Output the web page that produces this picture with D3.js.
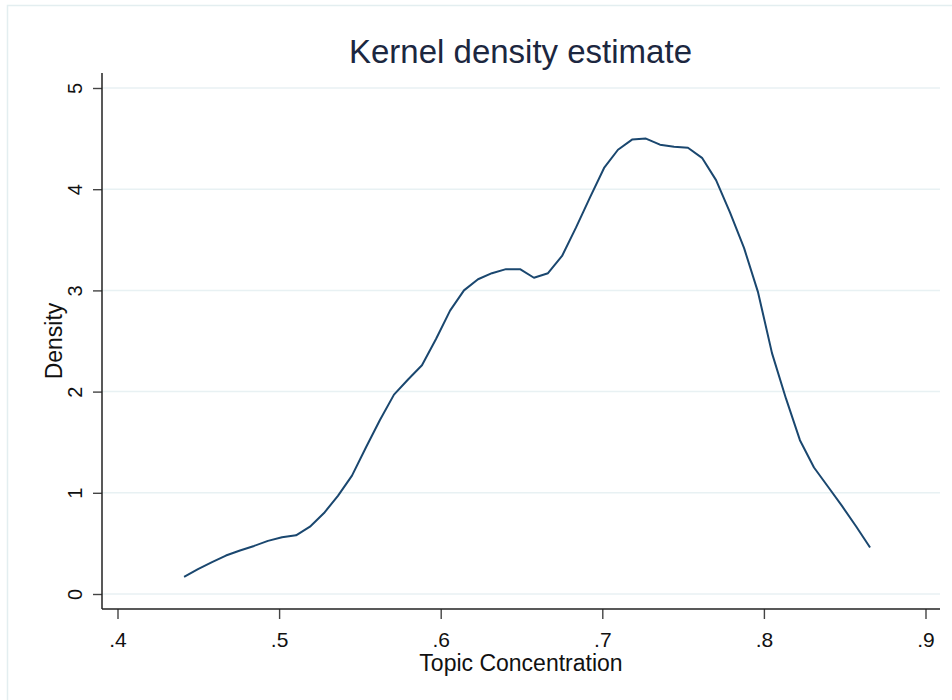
<!DOCTYPE html>
<html>
  <head>
    <meta charset="utf-8" />
    <script type="text/javascript" src="https://cdn.jsdelivr.net/npm/d3@7"></script>
    <style>
      body { margin: 0; background: #fff; }
      text { font-family: Arial, "Liberation Sans", sans-serif; }
    </style>
  </head>
  <body>
    <script type="text/javascript">
      // kdensity evaluation points (topic concentration) and density values
      const topic = [
        0.4412, 0.4498, 0.4585, 0.4671, 0.4758, 0.4845, 0.4931, 0.5018, 0.5105, 0.5191,
        0.5278, 0.5364, 0.5451, 0.5538, 0.5624, 0.5711, 0.5798, 0.5884, 0.5971, 0.6058,
        0.6144, 0.6231, 0.6317, 0.6404, 0.6491, 0.6577, 0.6664, 0.6751, 0.6837, 0.6924,
        0.7011, 0.7097, 0.7184, 0.7270, 0.7357, 0.7444, 0.7530, 0.7617, 0.7704, 0.7790,
        0.7877, 0.7964, 0.8050, 0.8137, 0.8223, 0.8310, 0.8397, 0.8483, 0.8570, 0.8657
      ];
      const density = [
        0.17, 0.245, 0.315, 0.38, 0.43, 0.475, 0.525, 0.56, 0.58, 0.665,
        0.8, 0.97, 1.17, 1.45, 1.72, 1.97, 2.12, 2.26, 2.52, 2.8,
        3.0, 3.11, 3.17, 3.21, 3.21, 3.125, 3.17, 3.34, 3.62, 3.92,
        4.21, 4.39, 4.49, 4.5, 4.44, 4.42, 4.41, 4.31, 4.09, 3.77,
        3.42, 2.98, 2.38, 1.93, 1.52, 1.25, 1.06, 0.87, 0.67, 0.46
      ];
      const xTicks = [0.4, 0.5, 0.6, 0.7, 0.8, 0.9];
      const yTicks = [0, 1, 2, 3, 4, 5];

      const W = 952, H = 700;
      const axisLeftX = 102, axisBottomY = 609, plotRight = 940, plotTop = 73;

      const svg = d3.select("body").append("svg")
        .attr("width", W)
        .attr("height", H);

      // faint graph region outline
      svg.append("rect")
        .attr("x", 7.5).attr("y", 5.5)
        .attr("width", W).attr("height", H)
        .attr("fill", "none")
        .attr("stroke", "#e3eef0")
        .attr("stroke-width", 1.5);

      const x = d3.scaleLinear().domain([0.4, 0.9]).range([117.5, 925.5]);
      const y = d3.scaleLinear().domain([0, 5]).range([594, 88]);

      // gridlines
      svg.append("g").selectAll("line")
        .data(yTicks)
        .enter().append("line")
        .attr("x1", axisLeftX).attr("x2", plotRight)
        .attr("y1", d => y(d)).attr("y2", d => y(d))
        .attr("stroke", "#e8f1f3")
        .attr("stroke-width", 1.5);

      // y axis
      const yAxis = d3.axisLeft(y).tickValues(yTicks).tickSize(9).tickFormat(d3.format("d"));
      const gy = svg.append("g")
        .attr("transform", "translate(" + axisLeftX + ",0)")
        .call(yAxis);
      gy.select(".domain").remove();
      gy.selectAll(".tick line").attr("stroke", "#444").attr("stroke-width", 1.4);
      gy.selectAll(".tick text")
        .attr("transform", "rotate(-90)")
        .attr("x", 0).attr("y", -20).attr("dy", 0)
        .attr("text-anchor", "middle")
        .attr("font-size", 20)
        .attr("fill", "#111");

      // x axis
      const xAxis = d3.axisBottom(x).tickValues(xTicks).tickSize(10)
        .tickFormat(d => d3.format(".1f")(d).replace(/^0/, ""));
      const gx = svg.append("g")
        .attr("transform", "translate(0," + axisBottomY + ")")
        .call(xAxis);
      gx.select(".domain").remove();
      gx.selectAll(".tick line").attr("stroke", "#444").attr("stroke-width", 1.4);
      gx.selectAll(".tick text")
        .attr("y", 38).attr("dy", 0)
        .attr("font-size", 21)
        .attr("fill", "#111");

      // axis lines
      svg.append("line")
        .attr("x1", axisLeftX).attr("x2", axisLeftX)
        .attr("y1", plotTop).attr("y2", axisBottomY)
        .attr("stroke", "#222").attr("stroke-width", 1.5);
      svg.append("line")
        .attr("x1", axisLeftX).attr("x2", plotRight)
        .attr("y1", axisBottomY).attr("y2", axisBottomY)
        .attr("stroke", "#222").attr("stroke-width", 1.5);

      // density curve
      const data = topic.map((t, i) => ({ t: t, d: density[i] }));
      const line = d3.line().x(d => x(d.t)).y(d => y(d.d));
      svg.append("path")
        .datum(data)
        .attr("d", line)
        .attr("fill", "none")
        .attr("stroke", "#1a476f")
        .attr("stroke-width", 2)
        .attr("stroke-linejoin", "round");

      // titles
      svg.append("text")
        .attr("x", 520.5).attr("y", 63)
        .attr("text-anchor", "middle")
        .attr("font-size", 33)
        .attr("fill", "#1c2740")
        .text("Kernel density estimate");

      svg.append("text")
        .attr("x", 521).attr("y", 671)
        .attr("text-anchor", "middle")
        .attr("font-size", 23)
        .attr("fill", "#111")
        .text("Topic Concentration");

      svg.append("text")
        .attr("transform", "translate(62,341) rotate(-90)")
        .attr("text-anchor", "middle")
        .attr("font-size", 23)
        .attr("fill", "#111")
        .text("Density");
    </script>
  </body>
</html>
